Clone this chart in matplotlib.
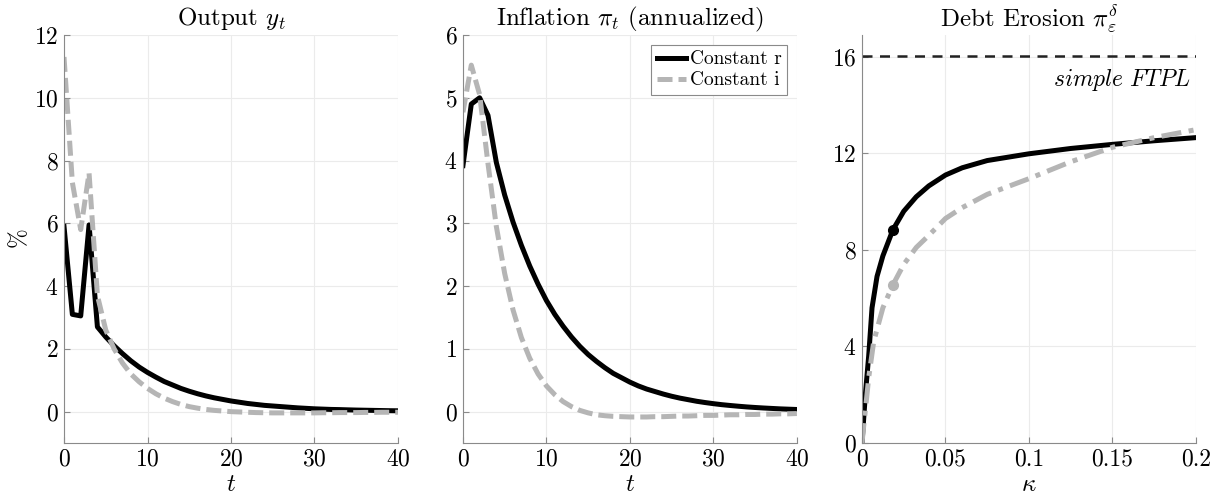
import matplotlib
matplotlib.use("Agg")
import matplotlib.pyplot as plt
import numpy as np

# output response y_t, t = 0..40
t = np.arange(41)
y_const_r = [5.9, 3.1, 3.05, 5.95, 2.7, 2.38, 2.1, 1.85, 1.62, 1.42, 1.25, 1.1, 0.96, 0.85,
             0.74, 0.65, 0.57, 0.5, 0.44, 0.39, 0.34, 0.3, 0.26, 0.23, 0.2, 0.18, 0.16, 0.14,
             0.12, 0.105, 0.09, 0.08, 0.07, 0.065, 0.057, 0.05, 0.045, 0.04, 0.035, 0.03, 0.027]
y_const_i = [11.3, 7.3, 5.8, 7.6, 3.7, 2.6, 2.0, 1.55, 1.2, 0.95, 0.74, 0.57, 0.43, 0.32,
             0.23, 0.16, 0.11, 0.07, 0.04, 0.02, 0.0, -0.01, -0.02, -0.03, -0.035, -0.04, -0.04,
             -0.04, -0.04, -0.04, -0.04, -0.035, -0.035, -0.03, -0.03, -0.03, -0.025, -0.025,
             -0.02, -0.02, -0.02]

# inflation pi_t (annualized)
pi_const_r = [3.92, 4.9, 5.0, 4.72, 3.97, 3.45, 3.02, 2.65, 2.32, 2.03, 1.77, 1.55, 1.36, 1.19,
              1.04, 0.91, 0.8, 0.7, 0.61, 0.54, 0.47, 0.41, 0.36, 0.32, 0.28, 0.245, 0.215,
              0.19, 0.165, 0.145, 0.127, 0.111, 0.098, 0.086, 0.075, 0.066, 0.058, 0.051,
              0.044, 0.039, 0.034]
pi_const_i = [4.77, 5.52, 5.05, 3.95, 2.95, 2.2, 1.62, 1.18, 0.85, 0.6, 0.41, 0.27, 0.16, 0.08,
              0.02, -0.02, -0.05, -0.065, -0.075, -0.08, -0.085, -0.085, -0.085, -0.08, -0.08,
              -0.075, -0.07, -0.07, -0.065, -0.06, -0.06, -0.055, -0.05, -0.05, -0.045, -0.045,
              -0.04, -0.04, -0.035, -0.035, -0.03]

# debt erosion vs kappa
kappa_r = [0, 0.001, 0.002, 0.004, 0.006, 0.009, 0.0125, 0.0185, 0.025, 0.0325, 0.04, 0.05,
           0.06, 0.075, 0.1, 0.125, 0.15, 0.175, 0.2]
erosion_r = [0, 1.0, 2.0, 3.6, 5.6, 6.9, 7.75, 8.83, 9.6, 10.2, 10.65, 11.1, 11.4, 11.7,
             11.98, 12.2, 12.37, 12.52, 12.65]
kappa_i = [0, 0.001, 0.002, 0.004, 0.007, 0.0125, 0.0185, 0.025, 0.0325, 0.04, 0.05, 0.06,
           0.075, 0.1, 0.125, 0.15, 0.175, 0.2]
erosion_i = [0, 0.7, 1.35, 2.7, 4.2, 5.6, 6.55, 7.4, 8.1, 8.6, 9.3, 9.75, 10.3, 10.95, 11.65,
             12.25, 12.65, 12.98]
kappa_mark = 0.0185
mark_r = 8.83
mark_i = 6.55
simple_ftpl = 16.05

plt.rcParams['font.family'] = ['cmr10']
plt.rcParams['mathtext.fontset'] = 'cm'
plt.rcParams['axes.formatter.use_mathtext'] = True
plt.rcParams['font.size'] = 17

black = 'black'
gray = '#b5b5b5'
lw = 3.6

fig = plt.figure(figsize=(12.17, 4.98), dpi=100)
left = [0.0526, 0.3804, 0.7083]
axes = [fig.add_axes([l, 0.1104, 0.2744, 0.8193]) for l in left]


def style(ax):
    for s in ['top', 'right']:
        ax.spines[s].set_visible(False)
    for s in ['left', 'bottom']:
        ax.spines[s].set_color('#8a8a8a')
        ax.spines[s].set_linewidth(0.8)
    ax.tick_params(direction='in', length=4, color='#8a8a8a', labelsize=17, pad=4)
    ax.grid(True, color='#ebebeb', linewidth=0.8)
    ax.set_axisbelow(True)


ax = axes[0]
ax.plot(t, y_const_r, color=black, lw=lw)
ax.plot(t, y_const_i, color=gray, lw=lw, ls=(0, (3, 1.2)))
ax.set_xlim(0, 40)
ax.set_ylim(-1, 12)
ax.set_yticks([0, 2, 4, 6, 8, 10, 12])
ax.set_xticks([0, 10, 20, 30, 40])
ax.set_title(r'Output $y_t$', fontsize=18, pad=7)
ax.set_xlabel(r'$t$', fontsize=18, labelpad=2)
ax.set_ylabel(r'$\%$', fontsize=17, labelpad=2)
style(ax)

ax = axes[1]
ax.plot(t, pi_const_r, color=black, lw=lw, label='Constant r')
ax.plot(t, pi_const_i, color=gray, lw=lw, ls=(0, (3, 1.2)), label='Constant i')
ax.set_xlim(0, 40)
ax.set_ylim(-0.5, 6)
ax.set_yticks([0, 1, 2, 3, 4, 5, 6])
ax.set_xticks([0, 10, 20, 30, 40])
ax.set_title(r'Inflation $\pi_t$ (annualized)', fontsize=18, pad=7)
ax.set_xlabel(r'$t$', fontsize=18, labelpad=2)
leg = ax.legend(loc='upper right', fontsize=14, handlelength=1.5, handletextpad=0.2,
                borderpad=0.3, labelspacing=0.15, fancybox=False, framealpha=1,
                edgecolor='#8a8a8a', borderaxespad=0.5)
leg.get_frame().set_linewidth(0.8)
style(ax)

ax = axes[2]
ax.axhline(simple_ftpl, color='#222222', lw=1.8, ls=(0, (4, 3)))
ax.plot(kappa_r, erosion_r, color=black, lw=lw)
ax.plot(kappa_i, erosion_i, color=gray, lw=lw, ls=(0, (4, 1.5, 1, 1.5)))
ax.plot([kappa_mark], [mark_r], 'o', color=black, ms=7)
ax.plot([kappa_mark], [mark_i], 'o', color=gray, ms=7)
ax.text(0.197, 15.05, r'$\mathit{simple\ FTPL}$', ha='right', va='center', fontsize=17)
ax.set_xlim(0, 0.2)
ax.set_ylim(0, 16.9)
ax.set_yticks([0, 4, 8, 12, 16])
ax.set_xticks([0, 0.05, 0.1, 0.15, 0.2])
ax.set_xticklabels(['0', '0.05', '0.1', '0.15', '0.2'])
ax.set_title(r'Debt Erosion $\pi^{\delta}_{\varepsilon}$', fontsize=18, pad=7)
ax.set_xlabel(r'$\kappa$', fontsize=18, labelpad=2)
style(ax)

fig.savefig('out.png', dpi=100)
